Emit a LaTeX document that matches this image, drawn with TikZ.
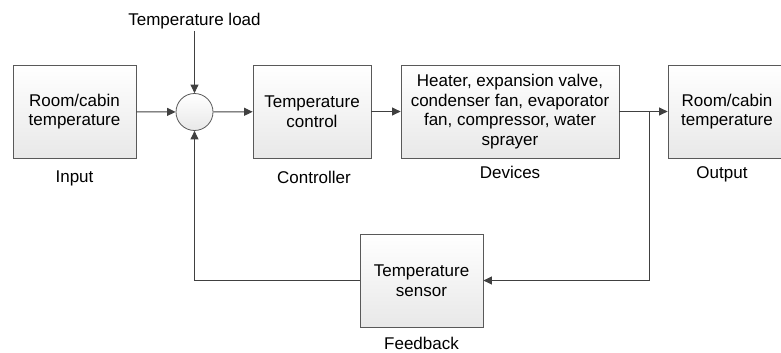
\documentclass[tikz,border=0pt]{standalone}
\usepackage{fontspec}
\setmainfont{Liberation Sans}
\usetikzlibrary{arrows.meta,shadows}
\begin{document}
\begin{tikzpicture}[x=1pt,y=-1pt,
  txt/.style={font=\fontsize{17}{19.5}\selectfont},
  lbl/.style={txt, anchor=base, inner sep=0pt},
  blk/.style={txt, draw=black!65, line width=0.8pt, top color=white, bottom color=black!9,
    drop shadow={shadow xshift=1.2pt,shadow yshift=-1.2pt,opacity=0.25},
    align=center, inner sep=2pt, minimum height=93pt},
  sumnode/.style={circle, draw=black!65, line width=0.8pt, top color=white, bottom color=black!9, minimum size=37pt, inner sep=0pt},
  wire/.style={draw=black!75, line width=1pt},
  arr/.style={wire, -{Triangle[length=8.5pt,width=8pt]}}]
\useasboundingbox (0,0) rectangle (781,353);

% blocks
\node[blk, minimum width=123pt] (input) at (74.5,111.5) {Room/cabin\\temperature};
\node[sumnode] (sum) at (194.5,112) {};
\node[blk, minimum width=118pt] (ctrl) at (312,111.5) {Temperature\\control};
\node[blk, minimum width=218pt] (dev) at (510,111.5) {Heater, expansion valve,\\condenser fan, evaporator\\fan, compressor, water\\sprayer};
\node[blk, minimum width=118pt] (out) at (727,111.5) {Room/cabin\\temperature};
\node[blk, minimum width=123pt] (sensor) at (421.5,280.5) {Temperature\\sensor};

% labels
\node[lbl] (load) at (194.5,26) {Temperature load};
\node[lbl] (inlbl) at (74.5,182.5) {Input};
\node[lbl] (ctrllbl) at (314,183) {Controller};
\node[lbl] (devlbl) at (510,178) {Devices};
\node[lbl] (outlbl) at (722,178) {Output};
\node[lbl] (fblbl) at (421.5,349) {Feedback};

% connectors
\coordinate (loadend) at (194.5,31);
\coordinate (tap) at (649,112);
\draw[arr] (loadend) -- (sum);
\draw[arr] (input) -- (sum);
\draw[arr] (sum) -- (ctrl);
\draw[arr] (ctrl) -- (dev);
\draw[arr] (dev) -- (out);
\draw[arr] (tap) |- (sensor);
\draw[arr] (sensor) -| (sum);
\end{tikzpicture}
\end{document}
